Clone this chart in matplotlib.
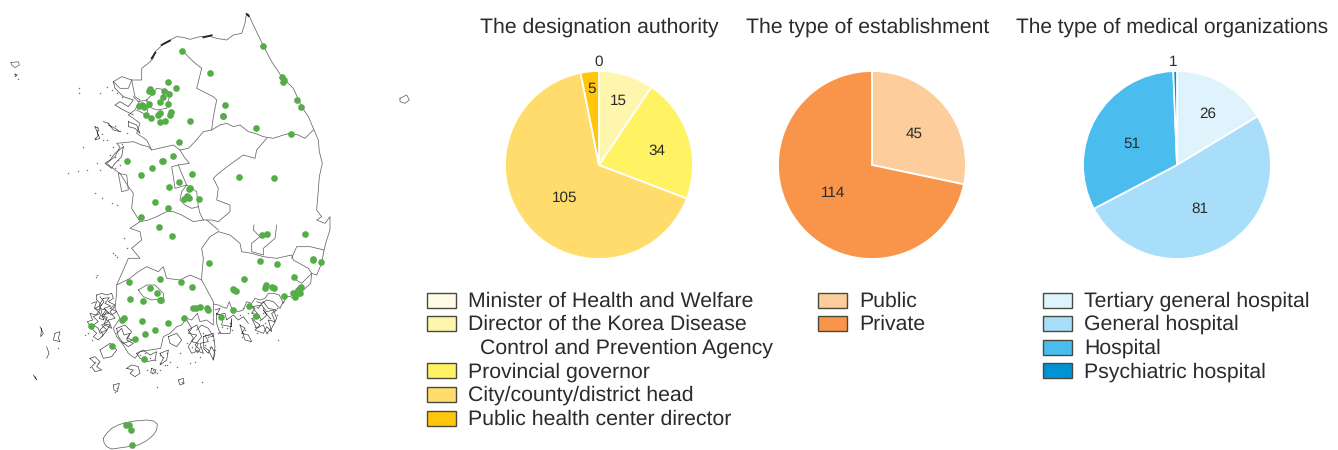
import matplotlib
matplotlib.use('Agg')
import matplotlib.pyplot as plt
from matplotlib.patches import Rectangle

# map coordinates at 3x pixel scale
coast = [(395,240),(425,240),(425,205),(445,190),(460,175),(465,155),(482,140),(490,130),(510,120),(530,110),(550,112),(570,118),(600,110),(625,108),(650,115),(680,120),(700,105),(725,100),(735,70),(738,48),(745,42),
         (760,75),(790,137),(815,185),(845,230),(880,265),(905,320),(925,350),(940,385),(955,420),(958,455),(967,490),(958,530),(955,570),(950,630),(965,650),(950,660),(975,670),(990,650),(990,690),(980,720),(972,750),(965,790),(950,825),(935,820),(932,850),(905,875),(885,900),(872,890),(860,890),(850,910),(838,885),(820,880),(805,880),(795,895),(780,900),(765,895),(755,910),(740,905),(730,930),(715,935),(695,925),(688,905),(680,925),(665,920),(655,915),(640,912),(640,975),(633,970),(620,960),(600,965),(592,940),(575,960),(560,955),(545,975),(530,980),(510,1000),(490,1010),(482,1045),(450,1050),(420,1055),(405,1075),(385,1060),(370,1035),(350,1010),(340,985),(360,955),(345,925),(350,880),(350,855),(370,810),(385,775),(420,775),(395,745),(425,720),(420,695),(390,685),(420,665),(395,625),(400,580),(385,560),(360,520),(345,510),(320,490),(345,470),(360,440),(350,430),(400,425),(425,435),(445,440),(455,450),(440,420),(410,400),(420,370),(400,355),(385,345),(405,330),(420,300),(405,290),(395,240)]
borders = [
    [(547,152),(570,175),(580,185),(605,205),(590,265),(640,290),(650,300),(640,350),(635,390),(610,395),(585,425),(565,445),(540,450),(520,435),(490,442),(455,450)],
    [(635,390),(660,375),(680,370),(700,380),(720,375),(745,395),(765,400),(790,410),(820,415),(850,405),(870,400),(895,405),(915,415),(940,390)],
    [(800,415),(770,450),(765,475),(730,465),(695,490),(675,505),(650,525),(640,535),(655,565),(650,600),(690,615),(690,635),(655,665),(635,660),(620,660)],
    [(540,450),(552,470),(568,490),(535,495),(515,500),(520,530),(525,565),(560,555),(545,520),(535,495)],
    [(560,555),(590,575),(595,620),(575,625),(555,615),(540,600),(545,575),(560,555)],
    [(420,665),(445,660),(470,650),(500,635),(520,635),(545,645),(580,665),(610,660),(620,660),(655,690)],
    [(595,620),(600,640),(610,660)],
    [(655,695),(630,710),(605,745),(610,775),(605,830),(605,840),(640,905),(640,912)],
    [(350,855),(390,835),(415,815),(440,800),(475,815),(490,800),(500,835),(540,840),(570,825),(605,840)],
    [(655,695),(690,705),(720,730),(725,755),(755,760),(790,770),(830,775),(875,765),(880,780),(925,805),(935,820)],
    [(830,675),(825,715),(790,745),(790,765),(755,755),(755,730),(780,710),(760,690),(762,675)],
    [(875,775),(890,740),(930,740),(972,750)],
    [(415,870),(440,855),(465,855),(490,880),(490,895),(455,900),(430,890),(415,870)],
    [(440,300),(455,285),(470,265),(500,270),(512,282),(505,300),(500,325),(470,330),(445,320),(440,300)],
    [(400,290),(415,305),(440,300),(445,320),(440,345),(410,330)],
    [(340,245),(365,230),(395,240),(385,265),(360,265),(340,245)],
    [(355,520),(380,525),(385,570),(365,575),(355,520)],
    [(880,835),(905,850),(935,820)],
]
jeju = [(310,1315),(320,1300),(335,1285),(355,1275),(375,1268),(405,1263),(440,1260),(460,1263),(472,1272),(470,1290),(460,1305),(440,1322),(415,1335),(385,1340),(350,1345),(335,1347),(320,1340),(312,1328),(310,1315)]
dokdo = [(1200,295),(1220,285),(1228,300),(1215,310),(1200,305),(1200,295)]
nw_island = [(33,188),(55,185),(58,195),(45,203),(35,195),(33,188)]
scribbles = [
    [(290,885),(305,880),(320,885),(335,880),(340,895),(325,905),(345,915),(330,925),(350,935),(335,945),(320,935),(310,950),(325,965),(305,975),(320,990),(300,1000),(295,985),(280,975),(295,965),(280,950),(300,940),(285,925),(305,915),(290,900),(290,885)],
    [(310,895),(328,893),(315,910),(332,918),(312,925),(328,940),(305,945),(312,960),(298,955),(305,935),(298,915),(310,895)],
    [(275,910),(290,905),(283,925),(300,930),(288,945),(270,940),(278,960),(262,965),(275,985),(290,1000),(280,1010),(295,1020),(310,1005),(300,990),(315,975),(335,985),(325,960),(345,955),(330,935),(345,920)],
    [(300,890),(312,905),(298,925),(318,930),(305,948),(322,952),(312,972),(330,975),(318,995),(305,1010)],
    [(350,1000),(365,985),(372,1005),(390,1000),(380,1020),(400,1030),(385,1040),(365,1025)],
    [(300,1050),(330,1030),(350,1050),(335,1070),(310,1075),(300,1050)],
    [(270,1075),(285,1070),(300,1085),(290,1100),(305,1110),(285,1115),(275,1100),(285,1090),(270,1075)],
    [(380,1105),(395,1095),(415,1100),(420,1120),(405,1130),(390,1120),(400,1110),(380,1105)],
    [(410,1060),(430,1050),(450,1065),(470,1055),(465,1080),(440,1085),(420,1075),(410,1060)],
    [(480,1060),(505,1050),(500,1080),(480,1095),(490,1075),(480,1060)],
    [(505,1010),(530,1000),(545,1020),(530,1040),(510,1030),(505,1010)],
    [(350,985),(375,975),(395,995),(380,1015),(400,1020),(370,1030),(355,1010),(350,985)],
    [(565,990),(590,975),(605,1010),(585,1035),(600,1050),(575,1060),(565,1040),(580,1015),(565,990)],
    [(560,960),(575,985),(565,1000),(590,1005),(575,1025),(595,1030),(585,1050),(610,1060),(600,1030),(625,1025),(615,1005),(640,1010),(625,985),(605,975),(590,990)],
    [(610,1045),(625,1060),(635,1040),(645,1060),(640,1080)],
    [(610,1010),(640,1000),(645,1040),(640,1080),(625,1050),(610,1040),(610,1010)],
    [(650,940),(670,950),(665,975),(695,980),(695,955),(690,1000),(660,1000),(650,970),(650,940)],
    [(645,930),(660,925),(650,945),(675,940),(680,960),(700,945),(715,960),(730,950),(745,970)],
    [(755,920),(785,915),(800,935),(820,930),(830,955),(815,985),(800,1000),(790,975),(770,985),(755,955),(780,950),(755,920)],
    [(750,915),(765,925),(755,940),(775,945),(760,960),(780,975),(765,990),(790,1000),(800,980),(815,995),(805,960),(825,965),(815,940),(830,930),(805,925),(790,905),(775,925)],
    [(770,940),(785,960),(800,945),(790,930),(810,955)],
    [(850,905),(840,925),(820,905),(800,900),(785,910),(770,905)],
    [(720,975),(735,985),(725,1000),(745,1005),(755,1025),(735,1020),(720,975)],
    [(310,365),(325,370),(340,390),(360,395),(345,385),(325,375)],
    [(370,440),(345,460),(330,480),(315,490),(335,505),(345,490),(365,470),(370,440)],
    [(340,245),(345,265),(370,290),(400,300),(385,320),(360,305),(345,315),(370,330),(400,345)],
    [(385,365),(410,375),(420,400),(405,385),(385,380),(385,365)],
    [(285,380),(295,385),(292,400),(300,415),(285,420),(295,405),(285,380)],
    [(165,1000),(180,995),(175,1015),(180,1025),(160,1020),(165,1000)],
    [(120,980),(130,1000),(122,1010),(125,985)],
    [(140,1040),(147,1060),(140,1075)],
    [(100,1125),(110,1140),(105,1130)],
    [(535,1140),(550,1135),(552,1150),(540,1155),(535,1140)],
    [(340,1155),(358,1150),(352,1175),(342,1170),(340,1155)],
    [(455,1105),(468,1110),(462,1120),(452,1118),(455,1105)],
    [(45,222),(52,225),(46,230),(45,222)],
]
# darker stretches of the northern shore
dark_strokes = [[(485,135),(510,122)], [(610,112),(635,106)], [(740,42),(746,48)], [(455,175),(466,158)]]

islands_x = [55,238,238,322,335,350,365,325,345,360,290,295,305,285,310,340,355,365,330,345,355,345,360,300,285,305,335,350,205,235,260,290,320,380,250,300,
             372,380,350,340,345,292,288,255,265,275,175,105,270,285,295,460,465,545,550,350,345,470,605,
             420,435,450,465,480,500,490,480,495,510,540,560,575,590,600,570,585,610,625,640,630,615,645,665,695,690,680,660,730,745,760,775,790,770,755,780,795,810,825,830,805,790,765,730,735,725,800,835,830,720,770,600,655,530,500,440,470,455,480]
islands_y = [237,265,278,262,270,280,290,370,378,392,380,390,402,415,420,440,450,432,465,470,480,505,495,510,580,595,610,615,520,513,510,490,420,400,440,280,
             715,745,770,760,765,826,830,1005,1000,1020,1045,1130,1100,1085,1090,1110,1115,1145,1150,1165,1175,1160,1145,
             1065,1060,1075,1080,1065,1060,1070,1090,1095,1085,1060,1030,1040,1055,1070,1090,1085,1000,1010,1020,1040,1035,1050,980,990,970,985,995,925,940,945,950,940,920,935,960,970,955,930,945,960,925,980,1000,990,1010,1000,1020,925,945,1000,1040,1000,1100,1095,1110,1120,1120,1110]

hospital_x = [547,630,790,845,852,850,892,904,503,527,450,447,455,492,507,488,480,504,447,417,425,432,437,454,475,479,514,511,496,480,570,676,670,670,769,874,537,382,487,490,520,455,423,576,536,507,571,567,560,553,568,597,466,504,424,717,823,
              478,515,787,800,916,628,779,830,940,938,962,388,481,542,576,733,881,451,470,484,480,390,430,698,702,708,798,795,815,823,852,885,890,900,895,903,880,895,885,900,580,588,599,622,623,698,747,767,662,553,505,425,372,366,272,466,436,405,337,431,378,388,393,395]
hospital_y = [152,218,137,230,240,247,299,321,246,265,268,274,275,274,283,291,307,313,311,318,316,322,345,353,344,338,335,344,362,367,362,315,347,349,384,403,426,484,482,484,468,505,526,521,546,561,565,567,587,598,595,597,605,625,651,530,533,
              680,709,705,703,703,788,782,793,778,780,785,845,837,846,861,836,832,865,880,899,899,897,904,868,869,873,855,865,860,864,889,885,875,865,880,860,880,870,890,880,924,925,920,925,930,929,919,947,950,954,968,963,955,960,978,991,1001,1017,1037,1078,1276,1276,1289,1334]

authority_labels = ['Minister of Health and Welfare', 'Director of the Korea Disease', 'Provincial governor', 'City/county/district head', 'Public health center director']
authority_values = [0, 15, 34, 105, 5]
authority_colors = ['#FFFBE6', '#FFF6AE', '#FFF263', '#FFDC6B', '#FFC60B']
establishment_labels = ['Public', 'Private']
establishment_values = [45, 114]
establishment_colors = ['#FDCD9B', '#F9954A']
organization_labels = ['Tertiary general hospital', 'General hospital', 'Hospital', 'Psychiatric hospital']
organization_values = [26, 81, 51, 1]
organization_colors = ['#DFF3FC', '#A9DEFA', '#4ABDEE', '#0093D6']

plt.rcParams['font.family'] = 'Liberation Sans'
plt.rcParams['text.hinting'] = 'no_hinting'
W, H = 1338, 450
TEXT = '#2b2b2b'
fig = plt.figure(figsize=(W / 100, H / 100), dpi=100)

bg = fig.add_axes([0, 0, 1, 1])
bg.set_xlim(0, W * 3)
bg.set_ylim(H * 3, 0)
bg.axis('off')

for line in [coast] + borders + [jeju, dokdo, nw_island]:
    bg.plot([p[0] for p in line], [p[1] for p in line], color='#666666', lw=0.55, solid_joinstyle='round')
for line in scribbles:
    bg.plot([p[0] for p in line], [p[1] for p in line], color='#333333', lw=0.45, solid_joinstyle='round')
for line in dark_strokes:
    bg.plot([p[0] for p in line], [p[1] for p in line], color='#222222', lw=1.3)
bg.plot(islands_x, islands_y, ls='none', marker='o', ms=1.1, mfc='#555555', mew=0, alpha=0.8)
bg.scatter(hospital_x, hospital_y, s=23, color='#55AD47', linewidths=0, zorder=3)


def draw_pie(cx, values, colors):
    r = 94
    ax = fig.add_axes([(cx - r) / W, 1 - (165 + r) / H, 2 * r / W, 2 * r / H])
    ax.pie(values, colors=colors, startangle=90, counterclock=False, radius=1,
           wedgeprops={'edgecolor': 'white', 'linewidth': 1.3, 'clip_on': False})
    ax.set_xlim(-1, 1)
    ax.set_ylim(-1, 1)


draw_pie(599, authority_values, authority_colors)
draw_pie(872, establishment_values, establishment_colors)
draw_pie(1177, organization_values, organization_colors)

top = fig.add_axes([0, 0, 1, 1], zorder=5)
top.set_xlim(0, W)
top.set_ylim(H, 0)
top.axis('off')

for x, t, size in [(599.5, 'The designation authority', 15.3), (868, 'The type of establishment', 15.3), (1172, 'The type of medical organizations', 15)]:
    top.text(x, 27, t, fontsize=size, color=TEXT, ha='center', va='center')

for x, y, v in [(599, 62, 0), (618, 101, 15), (592, 89, 5), (657, 151, 34), (565, 198, 105),
                (914, 134, 45), (833, 193, 114),
                (1208, 114, 26), (1200, 209, 81), (1132, 144, 51), (1173, 62, 1)]:
    top.text(x, y, str(v), fontsize=11, color=TEXT, ha='center', va='center')


def draw_legend(x, labels, colors, wrapped=None):
    row = 0
    for label, color in zip(labels, colors):
        y = 300 + row * 23.6
        top.add_patch(Rectangle((x, y - 7.5), 29, 15, facecolor=color, edgecolor='#4a4a3c', lw=1))
        top.text(x + 41, y + 1, label, fontsize=15.3, color=TEXT, va='center')
        row += 1
        if wrapped and label == wrapped[0]:
            top.text(x + 53, 301 + row * 23.6, wrapped[1], fontsize=15.3, color=TEXT, va='center')
            row += 1


draw_legend(427, authority_labels, authority_colors, ('Director of the Korea Disease', 'Control and Prevention Agency'))
draw_legend(818, establishment_labels, establishment_colors)
draw_legend(1043, organization_labels, organization_colors)

plt.savefig('out.png', dpi=100)
